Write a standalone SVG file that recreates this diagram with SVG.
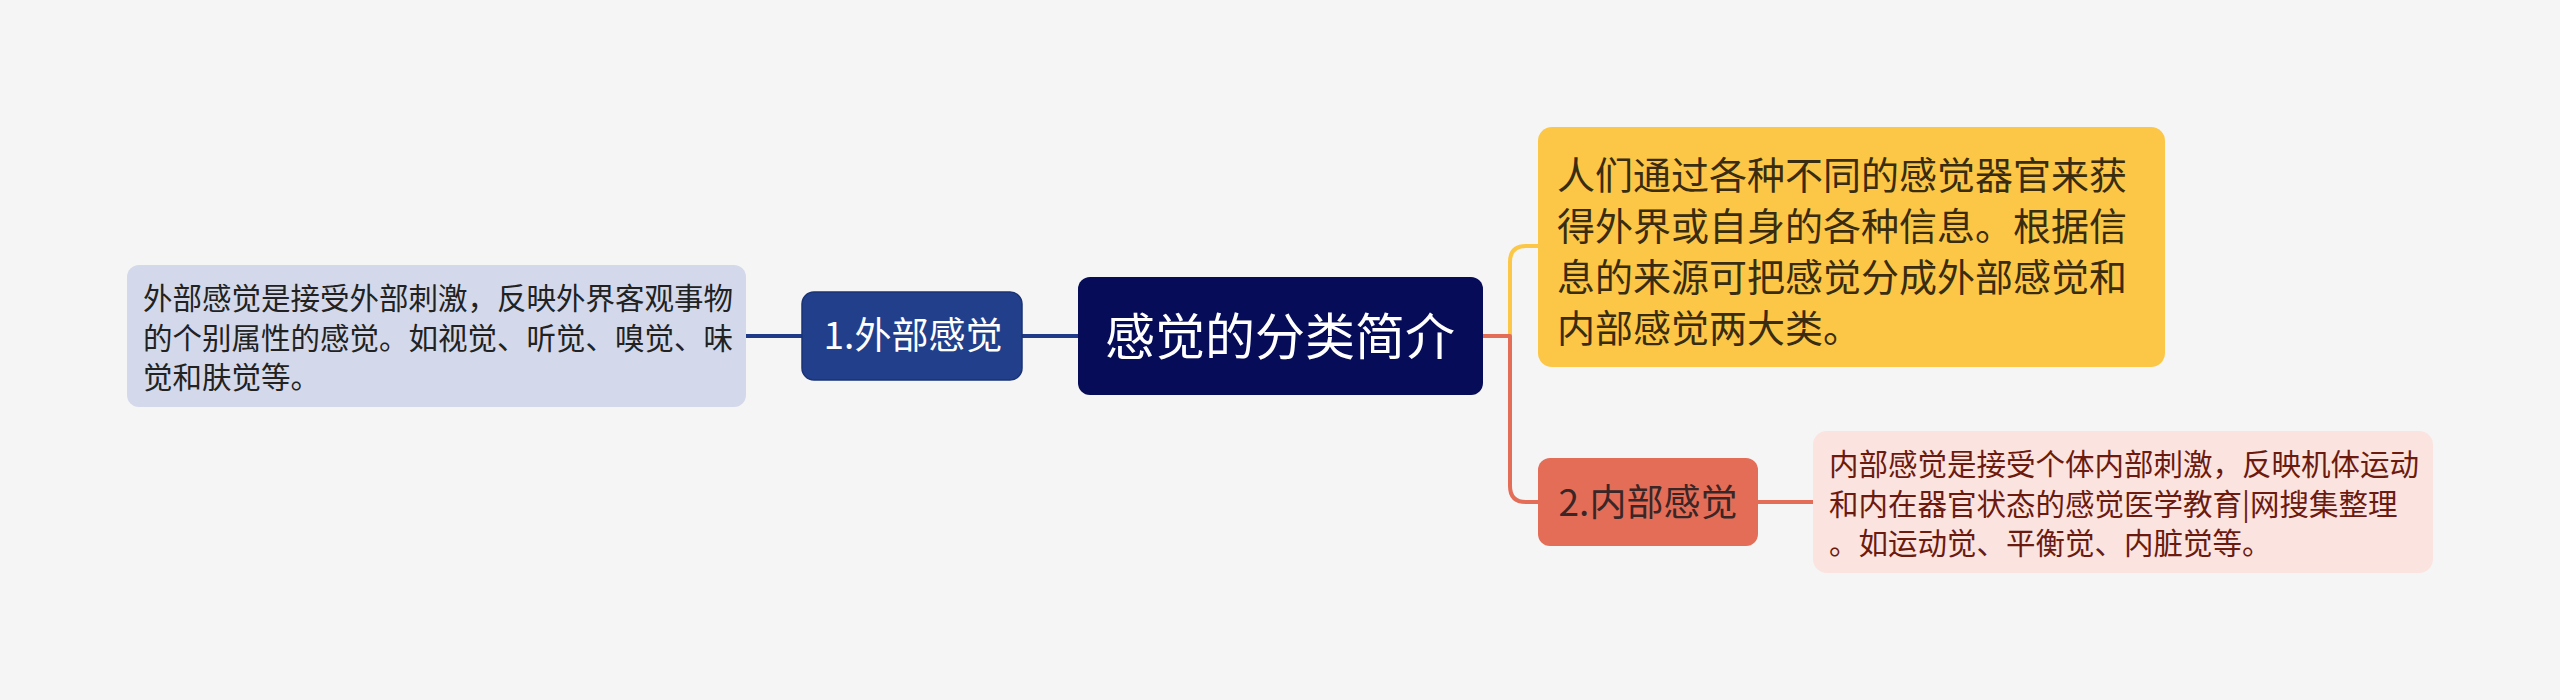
<svg xmlns="http://www.w3.org/2000/svg" width="2560" height="700" viewBox="0 0 2560 700">
<style>
text{font-family:"Noto Sans CJK SC","Noto Sans",sans-serif;}
.conn{fill:none;stroke-width:4;stroke-linejoin:round;}
.blue{stroke:#1f3a89;}
.red{stroke:#e46d58;}
.yel{stroke:#fcc746;}
.small{font-size:29.5px;}
</style>
<rect x="0" y="0" width="2560" height="700" fill="#f5f5f5"/>
<g id="connectors">
<path class="conn blue" d="M746 336 H802"/>
<path class="conn blue" d="M1022 336 H1078"/>
<path class="conn yel" d="M1510 336 V262 Q1510 246 1526 246 H1538"/>
<path class="conn red" d="M1482 336 H1510 V486 Q1510 502 1526 502 H1538"/>
<path class="conn red" d="M1758 502 H1814"/>
</g>
<g id="root">
<rect x="1078" y="277" width="405" height="118" rx="12" fill="#070c59"/>
<text x="1280" y="355" font-size="50" fill="#ffffff" text-anchor="middle">感觉的分类简介</text>
</g>
<g id="n1">
<rect x="802" y="292" width="220" height="88" rx="12" fill="#213f8b" stroke="#1a3375" stroke-width="1.5"/>
<text x="913" y="349" font-size="37" fill="#ffffff" text-anchor="middle">1.外部感觉</text>
</g>
<g id="n1-detail">
<rect x="127" y="265" width="619" height="142" rx="12" fill="#d3d9ea"/>
<text class="small" fill="#222222"><tspan x="143" y="309">外部感觉是接受外部刺激，反映外界客观事物</tspan><tspan x="143" y="348.5">的个别属性的感觉。如视觉、听觉、嗅觉、味</tspan><tspan x="143" y="388">觉和肤觉等。</tspan></text>
</g>
<g id="n-intro">
<rect x="1538" y="127" width="627" height="240" rx="14" fill="#fcc746"/>
<text font-size="38" fill="#3a2c10"><tspan x="1557" y="188.5">人们通过各种不同的感觉器官来获</tspan><tspan x="1557" y="239.5">得外界或自身的各种信息。根据信</tspan><tspan x="1557" y="290.5">息的来源可把感觉分成外部感觉和</tspan><tspan x="1557" y="341.5">内部感觉两大类。</tspan></text>
</g>
<g id="n2">
<rect x="1538" y="458" width="220" height="88" rx="12" fill="#e46d58"/>
<text x="1648" y="516" font-size="37" fill="#3a2626" text-anchor="middle">2.内部感觉</text>
</g>
<g id="n2-detail">
<rect x="1813" y="431" width="620" height="142" rx="14" fill="#fbe3df"/>
<text class="small" fill="#6b1a10"><tspan x="1829" y="475">内部感觉是接受个体内部刺激，反映机体运动</tspan><tspan x="1829" y="514.5">和内在器官状态的感觉医学教育|网搜集整理</tspan><tspan x="1829" y="554">。如运动觉、平衡觉、内脏觉等。</tspan></text>
</g>
</svg>
